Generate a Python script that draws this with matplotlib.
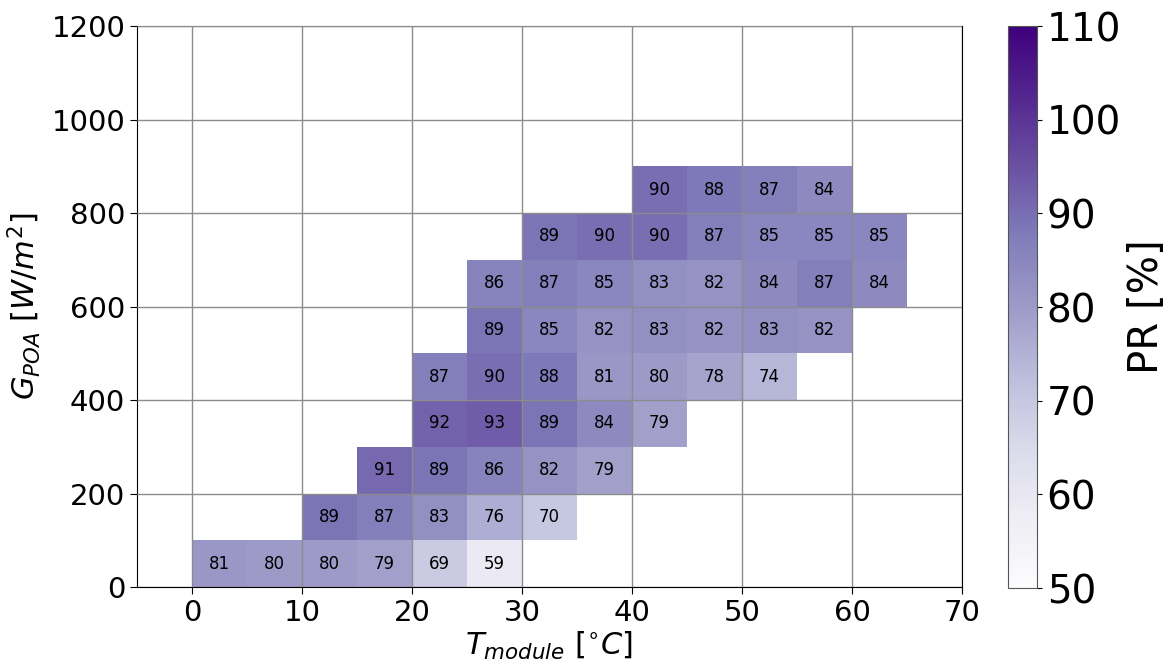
import numpy as np
import matplotlib
matplotlib.use("Agg")
import matplotlib.pyplot as plt

# bin edges
t_edges = [0, 5, 10, 15, 20, 25, 30, 35, 40, 45, 50, 55, 60, 65]
g_edges = [0, 100, 200, 300, 400, 500, 600, 700, 800, 900]

nan = np.nan
# rows: irradiance bins (low to high), columns: temperature bins
pr_0_100   = [81, 80, 80, 79, 69, 59, nan, nan, nan, nan, nan, nan, nan]
pr_100_200 = [nan, nan, 89, 87, 83, 76, 70, nan, nan, nan, nan, nan, nan]
pr_200_300 = [nan, nan, nan, 91, 89, 86, 82, 79, nan, nan, nan, nan, nan]
pr_300_400 = [nan, nan, nan, nan, 92, 93, 89, 84, 79, nan, nan, nan, nan]
pr_400_500 = [nan, nan, nan, nan, 87, 90, 88, 81, 80, 78, 74, nan, nan]
pr_500_600 = [nan, nan, nan, nan, nan, 89, 85, 82, 83, 82, 83, 82, nan]
pr_600_700 = [nan, nan, nan, nan, nan, 86, 87, 85, 83, 82, 84, 87, 84]
pr_700_800 = [nan, nan, nan, nan, nan, nan, 89, 90, 90, 87, 85, 85, 85]
pr_800_900 = [nan, nan, nan, nan, nan, nan, nan, nan, 90, 88, 87, 84, nan]

x_ticks = [0, 10, 20, 30, 40, 50, 60, 70]
y_ticks = [0, 200, 400, 600, 800, 1000, 1200]
cbar_ticks = [50, 60, 70, 80, 90, 100, 110]

Z = np.array([pr_0_100, pr_100_200, pr_200_300, pr_300_400, pr_400_500,
              pr_500_600, pr_600_700, pr_700_800, pr_800_900], dtype=float)
Zm = np.ma.masked_invalid(Z)

fig = plt.figure(figsize=(11.74, 6.63), dpi=100)
ax = fig.add_axes([0.1167, 0.1146, 0.7027, 0.846])
cax = fig.add_axes([0.8586, 0.1131, 0.0247, 0.8476])

mesh = ax.pcolormesh(t_edges, g_edges, Zm, cmap="Purples", vmin=50, vmax=110)
ax.set_axisbelow(False)
ax.grid(True, color="#8c8c8c", linewidth=1.0, zorder=3)

tc = 0.5 * (np.array(t_edges[:-1]) + np.array(t_edges[1:]))
gc = 0.5 * (np.array(g_edges[:-1]) + np.array(g_edges[1:]))
for i, g in enumerate(gc):
    for j, t in enumerate(tc):
        v = Z[i, j]
        if not np.isnan(v):
            ax.text(t, g, f"{v:.0f}", ha="center", va="center", fontsize=12,
                    color="black", zorder=4)

ax.set_xlim(-5, 70)
ax.set_ylim(0, 1200)
ax.set_xticks(x_ticks)
ax.set_yticks(y_ticks)
ax.tick_params(labelsize=21, length=5)
ax.set_xlabel(r"$T_{module}$ [$^{\circ}C$]", fontsize=22, labelpad=2)
ax.set_ylabel(r"$G_{POA}$ [$W/m^2$]", fontsize=22, labelpad=6)

cb = fig.colorbar(mesh, cax=cax)
cb.set_ticks(cbar_ticks)
cb.ax.tick_params(labelsize=28)
cb.outline.set_edgecolor("#555555")
cb.set_label("PR [%]", fontsize=29)

fig.savefig("out.png", dpi=100)
